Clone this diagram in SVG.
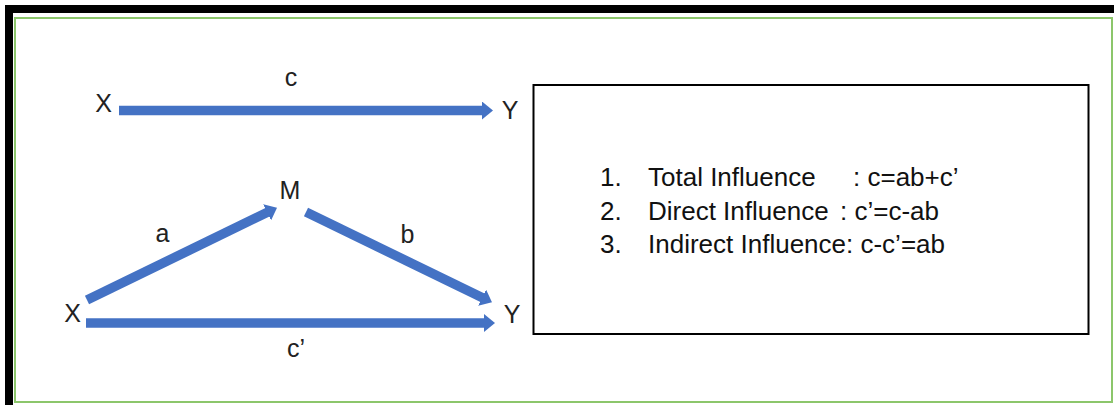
<svg xmlns="http://www.w3.org/2000/svg" width="1114" height="405" viewBox="0 0 1114 405">
<style>
.lbl{font-family:"Liberation Sans",Arial,sans-serif;font-size:25px;fill:#222;}
.lst{font-family:"Liberation Sans",Arial,sans-serif;font-size:26px;fill:#111;}
.arr{stroke:#4472C4;stroke-width:9.5;fill:none;marker-end:url(#head);}
</style>
<defs>
<marker id="head" markerUnits="userSpaceOnUse" viewBox="0 0 11 18" markerWidth="11" markerHeight="18" refX="1" refY="9" orient="auto">
<path d="M0,0 L11,9 L0,18 Z" fill="#4472C4"/>
</marker>
</defs>
<rect x="0" y="0" width="1114" height="405" fill="#fff"/>
<g id="frame">
<rect x="5" y="5" width="1109" height="8" fill="#000"/>
<rect x="5" y="5" width="8" height="400" fill="#000"/>
<rect x="15" y="18" width="1097" height="384" fill="none" stroke="#8cc66b" stroke-width="2"/>
</g>
<g id="connectors">
<line class="arr" x1="119" y1="110.5" x2="483" y2="110.5"/>
<line class="arr" x1="87" y1="300" x2="268" y2="212"/>
<line class="arr" x1="306" y1="212" x2="483" y2="298"/>
<line class="arr" x1="86" y1="323" x2="485" y2="323"/>
</g>
<g id="node-top-X"><text class="lbl" x="103.5" y="112" text-anchor="middle">X</text></g>
<g id="node-top-Y"><text class="lbl" x="510" y="119" text-anchor="middle">Y</text></g>
<g id="label-c"><text class="lbl" x="291" y="86" text-anchor="middle">c</text></g>
<g id="node-M"><text class="lbl" x="290" y="199" text-anchor="middle">M</text></g>
<g id="label-a"><text class="lbl" x="162.5" y="242" text-anchor="middle">a</text></g>
<g id="label-b"><text class="lbl" x="407.5" y="243" text-anchor="middle">b</text></g>
<g id="node-bottom-X"><text class="lbl" x="72.5" y="322" text-anchor="middle">X</text></g>
<g id="node-bottom-Y"><text class="lbl" x="512" y="323" text-anchor="middle">Y</text></g>
<g id="label-c-prime"><text class="lbl" x="296" y="357" text-anchor="middle">c’</text></g>
<g id="legend">
<rect x="533.5" y="85" width="555" height="249" fill="none" stroke="#000" stroke-width="2"/>
<text class="lst" x="600" y="186">1.</text>
<text class="lst" x="648" y="186">Total Influence</text>
<text class="lst" x="853" y="186">: c=ab+c’</text>
<text class="lst" x="600" y="220">2.</text>
<text class="lst" x="648" y="220">Direct Influence</text>
<text class="lst" x="840" y="220">: c’=c-ab</text>
<text class="lst" x="600" y="253">3.</text>
<text class="lst" x="648" y="253">Indirect Influence: c-c’=ab</text>
</g>
</svg>
